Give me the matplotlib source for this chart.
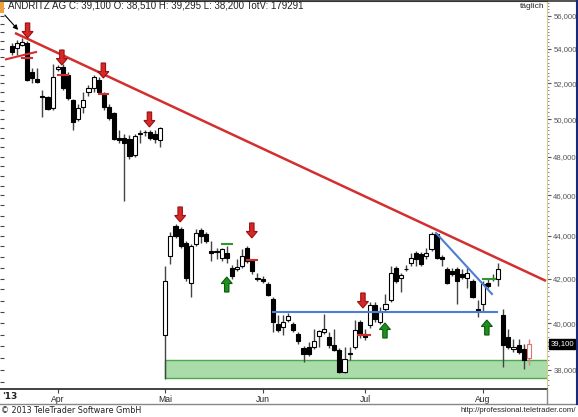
import numpy as np
import pandas as pd
import matplotlib
matplotlib.use("Agg")
import matplotlib.pyplot as plt
from matplotlib.patches import Polygon, Rectangle
from matplotlib.transforms import Affine2D, ScaledTranslation, blended_transform_factory
from matplotlib.lines import Line2D
from matplotlib.ticker import FixedLocator, FuncFormatter, NullFormatter

# ---------------- data ----------------
holidays = ["2013-03-29", "2013-04-01", "2013-05-01", "2013-05-09", "2013-05-20", "2013-05-30"]
dates = pd.bdate_range("2013-03-18", "2013-08-14")
dates = dates[~dates.isin(pd.to_datetime(holidays))]

opens = [54180, 54060, 54240, 54360, 52650, 52245, 51275, 51220, 50600, 52820,
         52940, 52475, 51050, 49990, 50660, 51500, 51730, 52190, 51330, 50660,
         50325, 49010, 49010, 48955, 48100, 49225, 49280, 49280, 49225, 48850,
         39490, 43040, 44480, 44335, 43660, 41775, 43610, 44285, 44090, 43274,
         43225, 42940, 43180, 42470, 42425, 42565, 43415, 42800, 42005, 41960,
         41730, 41090, 39975, 39840, 40150, 39975, 39535, 38930, 38970, 38970,
         39450, 39622, 39405, 39060, 38845, 37915, 38670, 38970, 40062, 39535,
         39930, 40820, 40062, 40640, 41045, 42470, 42005, 42425, 42705, 43180,
         43130, 43040, 43370, 44090, 42990, 42425, 42330, 42425, 42190, 42005,
         41867, 40640, 40865, 41775, 42005, 41960, 40370, 39405, 38890, 39060,
         38890, 38510]
highs = [54360, 54540, 54660, 54480, 52880, 52880, 51616, 51275, 53110, 53050,
         53110, 52650, 51105, 50825, 51500, 51905, 52475, 52360, 51500, 50825,
         50380, 49390, 49225, 49170, 49225, 49390, 49390, 49390, 49390, 49550,
         42565, 44190, 44580, 44430, 43753, 43610, 44335, 44385, 44190, 43753,
         43415, 43415, 43510, 42610, 42895, 43370, 43510, 42895, 42240, 42100,
         41820, 41180, 40370, 40370, 40460, 40062, 39622, 39015, 39188, 39755,
         39710, 40415, 39622, 39755, 38930, 38970, 38970, 40150, 40150, 39755,
         40954, 40954, 40730, 41315, 42565, 42565, 42240, 42610, 43180, 43274,
         43225, 43415, 44190, 44140, 43085, 42515, 42470, 42515, 42425, 42470,
         41960, 41045, 41867, 41960, 42190, 42705, 40640, 39755, 39320, 39320,
         39100, 39295]
lows = [53650, 53650, 54180, 52130, 52010, 52010, 50100, 50490, 50490, 52710,
        51616, 51050, 49390, 49880, 50325, 51275, 51500, 51445, 50490, 49940,
        48850, 48690, 45720, 47890, 47995, 48740, 49115, 48850, 48690, 48530,
        37625, 42660, 43900, 43415, 41867, 41180, 43510, 43660, 43660, 42800,
        42895, 42800, 42705, 41960, 42330, 42470, 42705, 42190, 41867, 41775,
        41225, 39622, 39622, 39490, 40062, 39622, 39100, 38335, 38590, 38890,
        38970, 39535, 38930, 38800, 37875, 37875, 38420, 38890, 39360, 39275,
        39800, 40062, 39975, 40505, 40954, 41775, 41408, 42330, 42565, 42565,
        42565, 42895, 43274, 42895, 42565, 41730, 42100, 40865, 41960, 41545,
        41135, 40280, 40505, 41545, 41867, 41640, 38125, 38890, 38760, 38670,
        38040, 38200]
closes = [53820, 54360, 54420, 52190, 52300, 52070, 51220, 50545, 52360, 52940,
          51730, 51160, 49830, 50600, 51050, 51730, 52360, 51500, 50660, 50050,
          48955, 48900, 48690, 48050, 49065, 49250, 49300, 49010, 48955, 49500,
          41870, 43980, 43995, 43510, 42005, 43510, 44140, 43995, 43753, 43180,
          43274, 43370, 42940, 42100, 42515, 43040, 42800, 42330, 41960, 41867,
          41270, 40062, 39710, 40062, 40325, 39710, 39230, 38670, 38670, 39230,
          39665, 39755, 39060, 38845, 37915, 38460, 38715, 39710, 39490, 39405,
          40820, 40195, 40505, 40865, 42240, 41867, 42145, 42450, 42940, 42895,
          42660, 43180, 44090, 42940, 42895, 41775, 42190, 41867, 42050, 42240,
          41180, 40550, 41730, 41640, 42030, 42425, 39060, 38970, 38970, 38760,
          38420, 39100]

title = "ANDRITZ AG C: 39,100 O: 38,510 H: 39,295 L: 38,200 TotV: 179291"
last_price = 39100
ytick_values = [38000, 40000, 42000, 44000, 46000, 48000, 50000, 52000, 54000, 56000]

# annotations (index position, price)
trend_red = ([0.64, 104.36], [54950, 41889])
trend_blue_diag = ([82.87, 93.8], [44146, 41296])
support_blue = ([51, 94.7], [40503, 40503])
zone_green = (30, 37680, 38420)        # start index, low, high
red_marks = [([-1.11, 4.75], [53390, 53818]), ([1.95, 3.9], [53449, 53449]),
             ([9.0, 11.0], [52481, 52481]), ([17.0, 18.8], [51401, 51401]),
             ([46.0, 48.0], [42864, 42864]), ([67.6, 70.0], [39483, 39483])]
green_marks = [([41.1, 43.0], [43618, 43618]), ([92.0, 94.3], [41981, 41981])]
red_arrows = [(3.1, 54650), (9.8, 53058), (17.9, 52308), (26.9, 49578),
              (32.9, 44682), (46.9, 43907), (68.6, 40668)]
green_arrows = [(42.0, 42069), (72.9, 40004), (92.8, 40136)]
pointer = ((-1.70, 56166), (1.62, 55010))

# ---------------- figure ----------------
W, H = 578, 417
fig = plt.figure(figsize=(W / 100, H / 100), dpi=100)
fig.patch.set_facecolor("white")
ax = fig.add_axes([0, (H - 389) / H, 547 / W, 388 / H])
ax.set_yscale("log")
ax.set_ylim(37217, 56908)
ax.set_xlim(-2.285, 104.55)

# left tick column (twin axis; created first, then main axis ticks moved right)
ax2 = ax.twinx()
ax2.set_yscale("log")
ax2.set_ylim(ax.get_ylim())
ax2.yaxis.tick_left()
ax2.yaxis.set_major_locator(FixedLocator(np.arange(37500, 57000, 500)))
ax2.yaxis.set_major_formatter(NullFormatter())
ax2.yaxis.set_minor_locator(FixedLocator([]))
ax2.tick_params(axis="y", direction="in", length=3, color="#444444")
for sp in ax2.spines.values():
    sp.set_visible(False)

idx = np.arange(len(opens))
o = np.array(opens, float); c = np.array(closes, float)
h = np.array(highs, float); l = np.array(lows, float)

wick_col = ["#444444"] * len(idx)
wick_col[-1] = "#e08080"
ax.vlines(idx, l, h, colors=wick_col, lw=1, zorder=2)
bottom = np.minimum(o, c)
height = np.maximum(np.abs(c - o), 28)
fcs = ["white" if cc >= oo else "black" for oo, cc in zip(o, c)]
ecs = ["black"] * len(idx)
ecs[-1] = "#e07070"
ax.bar(idx, height, bottom=bottom, width=0.8, color=fcs, edgecolor=ecs, lw=0.8, zorder=3)

# green zone
ax.add_patch(Rectangle((zone_green[0], zone_green[1]), 110, zone_green[2] - zone_green[1],
                       facecolor="#a9dca9", edgecolor="#4fa64f", lw=1.0, zorder=1))

ax.plot(*trend_red, color="#d32f2f", lw=1.8, zorder=4, solid_capstyle="butt")
ax.plot(*trend_blue_diag, color="#4a7fd4", lw=1.5, zorder=4)
ax.plot(*support_blue, color="#4a7fd4", lw=1.5, zorder=4)
for xs, ys in red_marks:
    ax.plot(xs, ys, color="#d32f2f", lw=1.5, zorder=4)
for xs, ys in green_marks:
    ax.plot(xs, ys, color="#2e9a2e", lw=1.5, zorder=4)

ax.annotate("", xy=pointer[1], xytext=pointer[0],
            arrowprops=dict(arrowstyle="-|>", color="black", lw=0.8, mutation_scale=7), zorder=5)


def block_arrow(x, y, down, fc, ec):
    s = -1 if not down else 1
    pts = [(0, 0), (-5.5, 6.5 * s), (-2.2, 6.5 * s), (-2.2, 15 * s),
           (2.2, 15 * s), (2.2, 6.5 * s), (5.5, 6.5 * s)]
    tr = Affine2D() + ScaledTranslation(x, y, ax.transData)
    ax.add_patch(Polygon(pts, closed=True, transform=tr, facecolor=fc,
                         edgecolor=ec, lw=0.8, zorder=6))


for x, y in red_arrows:
    block_arrow(x, y, True, "#d62828", "#9a1010")
for x, y in green_arrows:
    block_arrow(x, y, False, "#1f8f1f", "#0c5c0c")

# ---------------- axes styling ----------------
ax.spines["left"].set_visible(False)
ax.spines["top"].set_color("#333333")
ax.spines["bottom"].set_color("#222222")
ax.spines["bottom"].set_linewidth(1.2)
ax.spines["right"].set_color("#d8cc90")
ax.spines["right"].set_linestyle((0, (1, 1)))

ax.yaxis.tick_right()
ax.yaxis.set_label_position("right")
ax.yaxis.set_major_locator(FixedLocator(ytick_values))
ax.yaxis.set_major_formatter(FuncFormatter(lambda v, p: f"{int(round(v)):,}"))
ax.yaxis.set_minor_locator(FixedLocator(np.arange(37400, 57000, 200)))
ax.yaxis.set_minor_formatter(NullFormatter())
ax.tick_params(axis="y", which="both", left=False, labelleft=False, right=True, labelright=True)
ax.tick_params(axis="y", which="major", direction="out", length=3, color="#555555",
               labelsize=5.6, labelcolor="#555555", pad=1.5)
ax.tick_params(axis="y", which="minor", direction="out", length=1.5, width=0.7, color="#888888")
for t in ax.get_yticklabels():
    t.set_family("Liberation Sans")

month_pos = []
month_lab = []
names = {4: "Apr", 5: "Mai", 6: "Jun", 7: "Jul", 8: "Aug"}
for i in range(1, len(dates)):
    if dates[i].month != dates[i - 1].month:
        month_pos.append(i)
        month_lab.append(names[dates[i].month])
ax.set_xticks(month_pos)
ax.set_xticklabels(month_lab, fontsize=6.2, family="Liberation Sans", color="#222222")
ax.tick_params(axis="x", direction="out", length=3, color="#444444", pad=1)
ax.text(0.003, -0.02, "'13", transform=ax.transAxes, fontsize=6.5, fontweight="bold",
        family="DejaVu Sans", va="center", ha="left", color="#222222")

# last price label
bt = blended_transform_factory(ax.transAxes, ax.transData)
ax.text(1.006, last_price, f"{last_price:,}", transform=bt, fontsize=5.6, color="white",
        family="Liberation Sans", va="center", ha="left", zorder=7,
        bbox=dict(boxstyle="square,pad=0.15", fc="black", ec="black"))

# header / footer
fig.text(8 / W, 1 - 6 / H, title, fontsize=7, family="Liberation Sans", va="center",
         ha="left", color="#222222")
fig.text(545 / W, 1 - 7 / H, "täglich", fontsize=6, family="Liberation Sans",
         va="center", ha="right", color="#222222")
fig.add_artist(Rectangle((0, 1 - 13 / H), 4 / W, 12 / H, transform=fig.transFigure,
                         facecolor="#f0a040", edgecolor="none"))
fig.add_artist(Line2D([0, 1], [1 - 0.5 / H, 1 - 0.5 / H], transform=fig.transFigure,
                      color="#333333", lw=1.2))
fig.add_artist(Line2D([0, 577 / W], [1 - 404 / H, 1 - 404 / H], transform=fig.transFigure,
                      color="#888888", lw=1))
fig.add_artist(Line2D([547 / W, 547 / W], [1 - 389 / H, 1 - 404 / H], transform=fig.transFigure,
                      color="#888888", lw=1))
fig.add_artist(Line2D([577 / W, 577 / W], [1, 1 - 404 / H], transform=fig.transFigure,
                      color="#1a2a7a", lw=1.5))
fig.text(1 / W, 1 - 410.5 / H, "© 2013 TeleTrader Software GmbH", fontsize=5.8,
         family="DejaVu Sans", va="center", ha="left", color="#222222")
fig.text(576 / W, 1 - 410.5 / H, "http://professional.teletrader.com/", fontsize=5.6,
         family="Liberation Sans", va="center", ha="right", color="#222222")

fig.savefig("out.png", dpi=100)
